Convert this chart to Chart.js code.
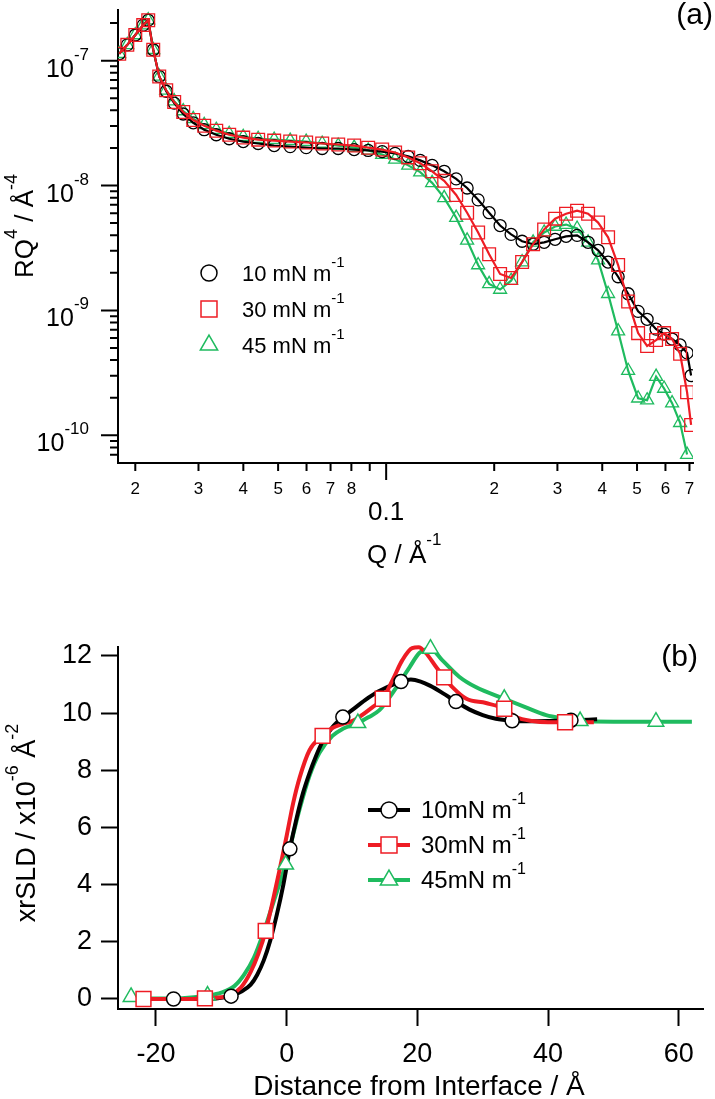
<!DOCTYPE html>
<html>
<head>
<meta charset="utf-8">
<title>X-ray reflectivity and SLD profiles</title>
<script src="https://cdn.jsdelivr.net/npm/chart.js@4.4.1/dist/chart.umd.min.js"></script>
<style>
  html, body { margin: 0; padding: 0; background: #fff; }
  #wrap { position: relative; width: 715px; height: 1099px; }
  canvas { position: absolute; left: 0; }
  #topChart { top: 0; }
  #bottomChart { top: 570px; }
</style>
</head>
<body>
<div id="wrap">
  <canvas id="topChart" width="715" height="570"></canvas>
  <canvas id="bottomChart" width="715" height="529"></canvas>
</div>
<script>
const FONT = '"Liberation Sans", Arial, Helvetica, sans-serif';
const BLACK = '#000000';
const RED = '#ee1c24';
const GREEN = '#1fbb5f';

// ---- panel (a): RQ^4 against Q (log-log) ----
const qValues = [0.01804, 0.0190, 0.0200, 0.02104, 0.02173, 0.02244, 0.02332, 0.02439, 0.02567, 0.02720,
  0.02901, 0.03112, 0.03362, 0.03653, 0.03997, 0.04399, 0.04875, 0.05403, 0.05986, 0.06634,
  0.07351, 0.08144, 0.08910, 0.09747, 0.1059, 0.1152, 0.1244, 0.1343, 0.1451, 0.1567,
  0.1681, 0.1804, 0.1936, 0.2077, 0.2229, 0.2392, 0.2567, 0.2755, 0.2956, 0.3172,
  0.3404, 0.3653, 0.3895, 0.4153, 0.4429, 0.4723, 0.5035, 0.5334, 0.5651, 0.5948,
  0.6261, 0.6591, 0.6893, 0.7073];

const rq4At10 = [1.136e-7, 1.338e-7, 1.605e-7, 1.926e-7, 2.109e-7, 1.222e-7, 7.47e-8, 5.69e-8, 4.57e-8, 3.74e-8,
  3.18e-8, 2.80e-8, 2.55e-8, 2.37e-8, 2.25e-8, 2.17e-8, 2.09e-8, 2.05e-8, 2.01e-8, 1.98e-8,
  1.98e-8, 1.94e-8, 1.91e-8, 1.87e-8, 1.81e-8, 1.71e-8, 1.59e-8, 1.45e-8, 1.30e-8, 1.13e-8,
  9.55e-9, 7.68e-9, 6.06e-9, 4.78e-9, 4.06e-9, 3.58e-9, 3.39e-9, 3.51e-9, 3.71e-9, 3.92e-9,
  3.99e-9, 3.51e-9, 3.03e-9, 2.44e-9, 1.86e-9, 1.36e-9, 9.82e-10, 8.49e-10, 7.08e-10, 6.46e-10,
  5.90e-10, 5.29e-10, 4.57e-10, 3.01e-10];

const rq4At30 = [1.136e-7, 1.338e-7, 1.605e-7, 1.926e-7, 2.109e-7, 1.222e-7, 7.47e-8, 5.79e-8, 4.66e-8, 3.88e-8,
  3.35e-8, 3.01e-8, 2.75e-8, 2.55e-8, 2.42e-8, 2.33e-8, 2.29e-8, 2.25e-8, 2.21e-8, 2.17e-8,
  2.13e-8, 2.09e-8, 2.01e-8, 1.94e-8, 1.84e-8, 1.68e-8, 1.51e-8, 1.30e-8, 1.09e-8, 8.41e-9,
  6.06e-9, 4.21e-9, 2.82e-9, 1.96e-9, 1.82e-9, 2.44e-9, 3.39e-9, 4.45e-9, 5.43e-9, 5.95e-9,
  6.29e-9, 5.95e-9, 5.05e-9, 3.85e-9, 2.31e-9, 1.18e-9, 6.58e-10, 5.19e-10, 5.79e-10, 6.58e-10,
  5.90e-10, 4.49e-10, 2.21e-10, 1.21e-10];

const rq4At45 = [1.136e-7, 1.338e-7, 1.605e-7, 1.926e-7, 2.109e-7, 1.222e-7, 7.47e-8, 5.79e-8, 4.74e-8, 3.95e-8,
  3.42e-8, 3.06e-8, 2.80e-8, 2.60e-8, 2.46e-8, 2.37e-8, 2.33e-8, 2.29e-8, 2.25e-8, 2.17e-8,
  2.09e-8, 2.01e-8, 1.91e-8, 1.77e-8, 1.62e-8, 1.45e-8, 1.28e-8, 1.05e-8, 7.96e-9, 5.53e-9,
  3.64e-9, 2.31e-9, 1.63e-9, 1.47e-9, 1.73e-9, 2.44e-9, 3.51e-9, 4.21e-9, 4.70e-9, 4.87e-9,
  4.53e-9, 3.51e-9, 2.53e-9, 1.36e-9, 6.82e-10, 3.29e-10, 1.98e-10, 1.91e-10, 2.95e-10, 2.37e-10,
  1.81e-10, 1.26e-10, 7.01e-11, null];

const legendNamesA = ['10 mN m', '30 mN m', '45 mN m'];

const qTicksMinor = [0.02, 0.03, 0.04, 0.05, 0.06, 0.07, 0.08, 0.09, 0.2, 0.3, 0.4, 0.5, 0.6, 0.7];
const qMinorLabels = ['2', '3', '4', '5', '6', '7', '8', '', '2', '3', '4', '5', '6', '7'];
const qTicksMajor = [0.1];
const qMajorLabels = ['0.1'];
const rqTicksMajor = [1e-7, 1e-8, 1e-9, 1e-10];
const rqExponents = ['-7', '-8', '-9', '-10'];
const rqTicksMinor = [7e-11, 8e-11, 9e-11,
  2e-10, 3e-10, 4e-10, 5e-10, 6e-10, 7e-10, 8e-10, 9e-10,
  2e-9, 3e-9, 4e-9, 5e-9, 6e-9, 7e-9, 8e-9, 9e-9,
  2e-8, 3e-8, 4e-8, 5e-8, 6e-8, 7e-8, 8e-8, 9e-8,
  2e-7];

// ---- panel (b): xrSLD profile against distance ----
const distAt10 = [-22, -19, -16, -13, -10.5, -8.5, -7, -5.5, -4.5, -3.5, -2.5, -1.5, -0.5, 0.5, 1.5, 2.5, 3.5, 4.5, 5.5, 7,
  8.6, 10, 12, 14, 16, 17.5, 19, 20.5, 22, 24, 25.9, 28, 30, 32, 34.5, 37, 40, 43.5, 47.5];
const sldAt10 = [0, 0, 0, 0.01, 0.03, 0.1, 0.25, 0.5, 0.85, 1.35, 2.05, 2.95, 4.0, 5.25, 6.3, 7.2, 7.9, 8.5, 9.0, 9.5,
  9.86, 10.1, 10.45, 10.75, 10.97, 11.1, 11.17, 11.1, 10.95, 10.68, 10.4, 10.12, 9.93, 9.8, 9.73, 9.71, 9.72, 9.75, 9.78];

const distAt30 = [-22, -19, -16, -12.5, -10, -8.5, -7, -5.5, -4.3, -3.2, -2, -1, 0, 1, 2, 3.5, 5.5, 7, 8.6, 10,
  11.1, 13.1, 14.7, 16.2, 17.7, 19.2, 20.2, 21.3, 22.9, 24.1, 25.4, 27.5, 30.5, 33.3, 35.1, 37.6, 40, 43, 47];
const sldAt30 = [0, 0, 0, 0.02, 0.06, 0.15, 0.4, 0.95, 1.6, 2.38, 3.55, 4.6, 5.7, 6.85, 7.75, 8.7, 9.2, 9.48, 9.62, 9.72,
  9.86, 10.2, 10.5, 11.15, 11.85, 12.27, 12.3, 12.1, 11.6, 11.25, 10.9, 10.5, 10.35, 10.15, 9.86, 9.72, 9.68, 9.68, 9.68];

const distAt45 = [-24, -20, -16, -12.1, -10, -8, -6.5, -5, -3.5, -2, -1, -0.15, 1, 2, 3.5, 5, 7, 8.6, 10.9, 12.5,
  14.2, 16.2, 18.8, 20.3, 22, 23.8, 26.4, 29, 33.3, 36.6, 39.7, 42.7, 44.9, 50, 56.5, 62];
const sldAt45 = [0.03, 0.02, 0.03, 0.12, 0.22, 0.45, 0.85, 1.45, 2.35, 3.4, 4.1, 4.7, 5.75, 6.65, 7.8, 8.6, 9.2, 9.45, 9.65, 9.85,
  10.1, 10.7, 11.6, 12.1, 12.25, 11.85, 11.27, 10.9, 10.5, 10.2, 9.93, 9.8, 9.72, 9.7, 9.7, 9.7];

const markDist10 = [-17.3, -8.5, 0.5, 8.6, 17.5, 25.9, 34.5, 43.5];
const markSld10 = [0, 0.1, 5.25, 9.86, 11.1, 10.4, 9.73, 9.75];
const markDist30 = [-21.9, -12.5, -3.2, 5.5, 14.7, 24.1, 33.3, 42.6];
const markSld30 = [0, 0.02, 2.38, 9.2, 10.5, 11.25, 10.15, 9.68];
const markDist45 = [-23.8, -12.1, -0.15, 10.9, 22, 33.3, 44.9, 56.5];
const markSld45 = [0.07, 0.12, 4.7, 9.65, 12.25, 10.5, 9.72, 9.7];

const distTicks = [-20, 0, 20, 40, 60];
const sldTicks = [0, 2, 4, 6, 8, 10, 12];
const legendNamesB = ['10mN m', '30mN m', '45mN m'];

// ---- helpers ----
function pairs(xs, ys) {
  return xs.map((x, i) => ({ x: x, y: ys[i] })).filter(p => p.y !== null);
}

// text made of parts [text, size, rise]
function richText(ctx, parts, x, y, align) {
  let w = 0;
  parts.forEach(p => { ctx.font = p[1] + 'px ' + FONT; w += ctx.measureText(p[0]).width; });
  let cx = align === 'right' ? x - w : align === 'center' ? x - w / 2 : x;
  ctx.textAlign = 'left';
  ctx.textBaseline = 'alphabetic';
  parts.forEach(p => {
    ctx.font = p[1] + 'px ' + FONT;
    ctx.fillText(p[0], cx, y - (p[2] || 0));
    cx += ctx.measureText(p[0]).width;
  });
}

function marker(ctx, style, x, y, r, stroke, fill, lw) {
  ctx.beginPath();
  if (style === 'circle') {
    ctx.arc(x, y, r, 0, Math.PI * 2);
  } else if (style === 'rect') {
    const s = r * Math.SQRT1_2;
    ctx.rect(x - s, y - s, 2 * s, 2 * s);
  } else {
    for (let k = 0; k < 3; k++) {
      const a = k * 2 * Math.PI / 3;
      const px = x + Math.sin(a) * r, py = y - Math.cos(a) * r;
      if (k === 0) ctx.moveTo(px, py); else ctx.lineTo(px, py);
    }
    ctx.closePath();
  }
  if (fill) { ctx.fillStyle = fill; ctx.fill(); }
  ctx.strokeStyle = stroke;
  ctx.lineWidth = lw;
  ctx.stroke();
}

// ---- panel (a) decorations: ticks, labels, legend ----
const topDecor = {
  id: 'topDecor',
  afterDraw(chart) {
    const ctx = chart.ctx;
    const xs = chart.scales.x, ys = chart.scales.y;
    const left = chart.chartArea.left, bottom = chart.chartArea.bottom;
    ctx.save();
    ctx.strokeStyle = BLACK;
    ctx.lineWidth = 2;
    ctx.beginPath();
    rqTicksMajor.forEach(v => { const p = ys.getPixelForValue(v); ctx.moveTo(left - 17, p); ctx.lineTo(left, p); });
    rqTicksMinor.forEach(v => { const p = ys.getPixelForValue(v); ctx.moveTo(left - 8, p); ctx.lineTo(left, p); });
    qTicksMajor.forEach(v => { const p = xs.getPixelForValue(v); ctx.moveTo(p, bottom); ctx.lineTo(p, bottom + 17); });
    qTicksMinor.forEach(v => { const p = xs.getPixelForValue(v); ctx.moveTo(p, bottom); ctx.lineTo(p, bottom + 8); });
    ctx.stroke();

    ctx.fillStyle = BLACK;
    rqTicksMajor.forEach((v, i) => {
      richText(ctx, [['10', 25], [rqExponents[i], 17, 17]], left - 29, ys.getPixelForValue(v) + 16, 'right');
    });
    qTicksMinor.forEach((v, i) => {
      if (qMinorLabels[i]) richText(ctx, [[qMinorLabels[i], 17]], xs.getPixelForValue(v), bottom + 31, 'center');
    });
    qTicksMajor.forEach((v, i) => {
      richText(ctx, [[qMajorLabels[i], 26]], xs.getPixelForValue(v), bottom + 57, 'center');
    });

    // axis titles
    richText(ctx, [['Q / Å', 26], ['-1', 17, 18]], 367, 563, 'left');
    ctx.save();
    ctx.translate(33, 226);
    ctx.rotate(-Math.PI / 2);
    richText(ctx, [['RQ', 26], ['4', 18, 16], [' / Å', 26], ['-4', 18, 16]], 0, 0, 'center');
    ctx.restore();

    richText(ctx, [['(a)', 30]], 713, 24, 'right');

    // legend
    const styles = ['circle', 'rect', 'triangle'];
    const colors = [BLACK, RED, GREEN];
    const sizes = [8, 11.3, 10];
    const rows = [273, 309, 345];
    rows.forEach((ry, i) => {
      marker(ctx, styles[i], 209, ry, sizes[i], colors[i], '#ffffff', 1.5);
      ctx.fillStyle = BLACK;
      richText(ctx, [[legendNamesA[i], 22], ['-1', 15, 14]], 242, ry + 8, 'left');
    });
    ctx.restore();
  }
};

new Chart(document.getElementById('topChart'), {
  type: 'scatter',
  data: {
    datasets: [
      {
        label: legendNamesA[1],
        data: pairs(qValues, rq4At30),
        showLine: true,
        borderColor: RED,
        borderWidth: 2.2,
        pointStyle: 'rect',
        pointRadius: 9,
        pointBorderWidth: 1.3,
        pointBorderColor: RED,
        pointBackgroundColor: 'rgba(0,0,0,0)',
        order: 1
      },
      {
        label: legendNamesA[0],
        data: pairs(qValues, rq4At10),
        showLine: true,
        borderColor: BLACK,
        borderWidth: 2.2,
        pointStyle: 'circle',
        pointRadius: 6,
        pointBorderWidth: 1.3,
        pointBorderColor: BLACK,
        pointBackgroundColor: 'rgba(0,0,0,0)',
        order: 2
      },
      {
        label: legendNamesA[2],
        data: pairs(qValues, rq4At45),
        showLine: true,
        borderColor: GREEN,
        borderWidth: 2.2,
        pointStyle: 'triangle',
        pointRadius: 7.5,
        pointBorderWidth: 1.3,
        pointBorderColor: GREEN,
        pointBackgroundColor: 'rgba(0,0,0,0)',
        order: 3
      }
    ]
  },
  options: {
    responsive: false,
    animation: false,
    devicePixelRatio: 1,
    events: [],
    layout: { padding: { left: 0, right: 22, top: 5, bottom: 0 } },
    plugins: { legend: { display: false }, tooltip: { enabled: false } },
    scales: {
      x: {
        type: 'logarithmic',
        min: 0.0179,
        max: 0.716,
        ticks: { display: false },
        grid: { display: true, drawOnChartArea: false, drawTicks: false },
        border: { display: true, color: BLACK, width: 2 },
        afterFit: s => { s.height = 107; }
      },
      y: {
        type: 'logarithmic',
        min: 6e-11,
        max: 2.53e-7,
        ticks: { display: false },
        grid: { display: true, drawOnChartArea: false, drawTicks: false },
        border: { display: true, color: BLACK, width: 2 },
        afterFit: s => { s.width = 118; }
      }
    }
  },
  plugins: [topDecor]
});

// ---- panel (b) decorations: titles, legend ----
const bottomDecor = {
  id: 'bottomDecor',
  afterDraw(chart) {
    const ctx = chart.ctx;
    ctx.save();
    ctx.fillStyle = BLACK;
    richText(ctx, [['Distance from Interface / Å', 28]], 419, 525, 'center');
    ctx.save();
    ctx.translate(35, 253);
    ctx.rotate(-Math.PI / 2);
    richText(ctx, [['xrSLD / x10', 27], ['-6', 18, 17], [' Å', 27], ['-2', 18, 17]], 0, 0, 'center');
    ctx.restore();
    richText(ctx, [['(b)', 30]], 698, 96, 'right');

    const styles = ['circle', 'rect', 'triangle'];
    const colors = [BLACK, RED, GREEN];
    const sizes = [8, 11.3, 10];
    const rows = [240, 275, 310];
    rows.forEach((ry, i) => {
      ctx.beginPath();
      ctx.strokeStyle = colors[i];
      ctx.lineWidth = 4;
      ctx.moveTo(368, ry);
      ctx.lineTo(410, ry);
      ctx.stroke();
      marker(ctx, styles[i], 389, ry, sizes[i], colors[i], '#ffffff', 1.5);
      ctx.fillStyle = BLACK;
      richText(ctx, [[legendNamesB[i], 24], ['-1', 16, 14]], 421, ry + 8, 'left');
    });
    ctx.restore();
  }
};

function profileSet(label, xs, ys, color, order) {
  return {
    label: label,
    data: pairs(xs, ys),
    showLine: true,
    borderColor: color,
    borderWidth: 4,
    cubicInterpolationMode: 'monotone',
    pointRadius: 0,
    clip: false,
    order: order
  };
}

function markerSet(label, xs, ys, color, style, radius) {
  return {
    label: label,
    data: pairs(xs, ys),
    showLine: false,
    pointStyle: style,
    pointRadius: radius,
    pointBorderWidth: 1.5,
    pointBorderColor: color,
    pointBackgroundColor: '#ffffff',
    clip: false,
    order: 0
  };
}

new Chart(document.getElementById('bottomChart'), {
  type: 'scatter',
  data: {
    datasets: [
      markerSet(legendNamesB[1], markDist30, markSld30, RED, 'rect', 10.5),
      markerSet(legendNamesB[0], markDist10, markSld10, BLACK, 'circle', 7),
      markerSet(legendNamesB[2], markDist45, markSld45, GREEN, 'triangle', 9),
      profileSet(legendNamesB[1], distAt30, sldAt30, RED, 1),
      profileSet(legendNamesB[0], distAt10, sldAt10, BLACK, 2),
      profileSet(legendNamesB[2], distAt45, sldAt45, GREEN, 3)
    ]
  },
  options: {
    responsive: false,
    animation: false,
    devicePixelRatio: 1,
    events: [],
    layout: { padding: { left: 0, right: 11, top: 77, bottom: 0 } },
    plugins: { legend: { display: false }, tooltip: { enabled: false } },
    scales: {
      x: {
        type: 'linear',
        min: -25.8,
        max: 63.7,
        afterBuildTicks: s => { s.ticks = distTicks.map(v => ({ value: v })); },
        ticks: {
          autoSkip: false,
          maxRotation: 0,
          padding: 12,
          color: BLACK,
          font: { family: FONT, size: 27 },
          callback: v => String(v)
        },
        grid: { drawOnChartArea: false, tickLength: 17, tickWidth: 2, tickColor: BLACK },
        border: { display: true, color: BLACK, width: 2 },
        afterFit: s => { s.height = 90; }
      },
      y: {
        type: 'linear',
        min: -0.35,
        max: 12.31,
        afterBuildTicks: s => { s.ticks = sldTicks.map(v => ({ value: v })); },
        ticks: {
          autoSkip: false,
          padding: 9,
          color: BLACK,
          font: { family: FONT, size: 27 },
          callback: v => String(v)
        },
        grid: { drawOnChartArea: false, tickLength: 17, tickWidth: 2, tickColor: BLACK },
        border: { display: true, color: BLACK, width: 2 },
        afterFit: s => { s.width = 118; }
      }
    }
  },
  plugins: [bottomDecor]
});
</script>
</body>
</html>
